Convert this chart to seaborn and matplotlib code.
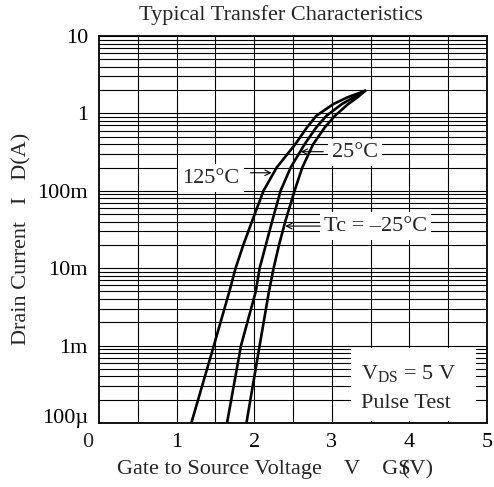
import matplotlib
matplotlib.use("Agg")
import matplotlib.pyplot as plt
import numpy as np
import pandas as pd
import seaborn as sns

sns.set_style("white")
plt.rcParams["font.family"] = ["Liberation Serif", "DejaVu Serif"]
plt.rcParams["mathtext.fontset"] = "custom"
plt.rcParams["mathtext.rm"] = "Liberation Serif"

FS = 16

# drain current points (A) shared by the three curves
current = [1e-4, 1e-3, 5e-3, 1e-2, 0.02, 0.04, 0.1, 0.2, 0.4, 0.66, 0.93, 1.32, 1.61, 1.96]
# gate-source voltage (V) at each current, per case temperature
vgs_125 = [1.19, 1.48, 1.68, 1.76, 1.86, 1.97, 2.12, 2.29, 2.53, 2.68, 2.80, 3.02, 3.20, 3.43]
vgs_25 = [1.65, 1.83, 2.02, 2.07, 2.15, 2.23, 2.34, 2.47, 2.65, 2.80, 2.93, 3.13, 3.28, 3.43]
vgs_m25 = [1.90, 2.07, 2.19, 2.25, 2.32, 2.40, 2.52, 2.62, 2.76, 2.91, 3.04, 3.21, 3.33, 3.43]

x_ticks = [1, 2, 3, 4, 5]
y_ticks = [1e-4, 1e-3, 1e-2, 1e-1, 1, 10]
y_labels = ["100\u00b5", "1m", "10m", "100m", "1", "10"]

data = pd.concat([
    pd.DataFrame({"Vgs": vgs_125, "Id": current, "Tc": "125"}),
    pd.DataFrame({"Vgs": vgs_25, "Id": current, "Tc": "25"}),
    pd.DataFrame({"Vgs": vgs_m25, "Id": current, "Tc": "-25"}),
])

fig = plt.figure(figsize=(4.94, 4.87), dpi=100)
ax = fig.add_axes([99 / 494, 1 - 423 / 487, 388 / 494, 387 / 487])

for tc, grp in data.groupby("Tc", sort=False):
    sns.lineplot(data=grp, x="Vgs", y="Id", ax=ax, color="black", lw=1.9,
                 sort=False, estimator=None, legend=False)

ax.set_yscale("log")
ax.set_xlim(0, 5)
ax.set_ylim(1e-4, 10)
ax.set_xticks(x_ticks)
ax.set_xticks(np.arange(0.5, 5, 0.5), minor=True)
ax.set_yticks(y_ticks)
ax.set_yticklabels(y_labels)
ax.tick_params(which="both", length=0, labelsize=FS, colors="black")
ax.tick_params(axis="x", pad=7)
ax.tick_params(axis="y", pad=8)
ax.get_yticklabels()[0].set_va("baseline")
ax.grid(True, which="both", color="black", lw=0.8)
ax.set_axisbelow(True)
for s in ax.spines.values():
    s.set_color("black")
    s.set_linewidth(1.3)
ax.set_xlabel("")
ax.set_ylabel("")

# "0" sits left of the axis corner
ax.text(-0.028, -0.026, "0", transform=ax.transAxes, ha="center", va="top",
        fontsize=FS)

fig.text(0.569, 0.969, "Typical Transfer Characteristics", ha="center",
         va="center", fontsize=FS)
fig.text(117 / 494, 0.035, "Gate to Source Voltage    V    GS", ha="left",
         va="center", fontsize=FS)
fig.text(433 / 494, 0.035, "(V)", ha="right", va="center", fontsize=FS)
fig.text(0.044, 0.51, "Drain Current   I   D(A)", ha="center", va="center",
         rotation=90, fontsize=FS)

box = dict(facecolor="white", edgecolor="none", pad=3)
arrow = dict(arrowstyle="->", color="black", lw=0.8, shrinkA=0, shrinkB=0)

ax.text(1.81, 0.146, "125\u00b0C", ha="right", va="center", fontsize=FS,
        bbox=box)
ax.annotate("", xy=(2.225, 0.171), xytext=(1.95, 0.171), arrowprops=arrow)
ax.text(3.0, 0.31, "25\u00b0C", ha="left", va="center", fontsize=FS, bbox=box)
ax.annotate("", xy=(2.60, 0.32), xytext=(2.89, 0.32), arrowprops=arrow)
ax.text(2.9, 0.035, "Tc = \u201325\u00b0C", ha="left", va="center",
        fontsize=FS, bbox=box)
ax.annotate("", xy=(2.40, 0.035), xytext=(2.85, 0.035), arrowprops=arrow)

ax.add_patch(plt.Rectangle((0.649, 0.005), 0.322, 0.19, transform=ax.transAxes,
                           facecolor="white", edgecolor="none", zorder=2))
ax.text(0.675, 0.125, "V$_{\\rm DS}$ = 5 V", transform=ax.transAxes,
        ha="left", va="center", fontsize=FS, zorder=3)
ax.text(0.675, 0.05, "Pulse Test", transform=ax.transAxes,
        ha="left", va="center", fontsize=FS, zorder=3)

fig.savefig("out.png", dpi=100)
